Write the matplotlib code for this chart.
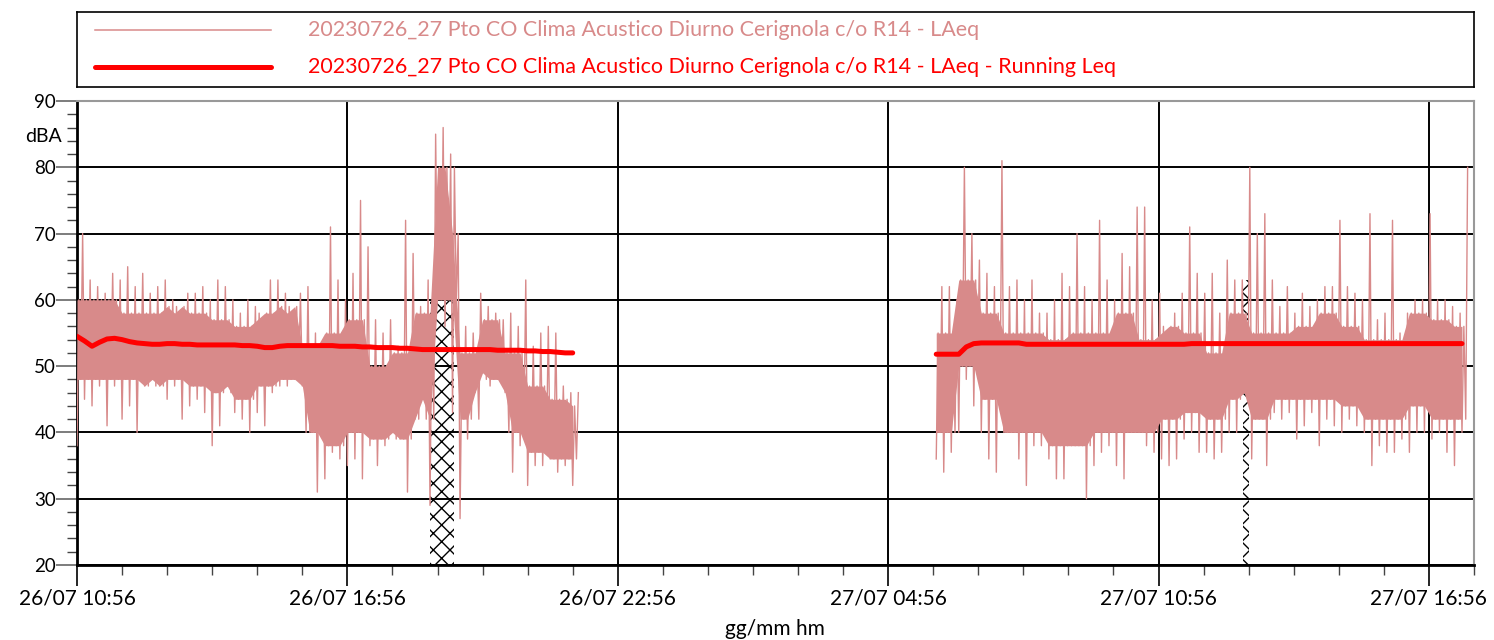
import numpy as np
import pandas as pd
import matplotlib
matplotlib.use('Agg')
import matplotlib.pyplot as plt
import matplotlib.dates as mdates
from matplotlib.ticker import FixedLocator, MultipleLocator

# campionamento a 10 minuti: per ogni intervallo minimo e massimo di LAeq
seg1_start = pd.Timestamp('2023-07-26 10:56')
seg2_start = pd.Timestamp('2023-07-27 06:00')
step = pd.Timedelta(minutes=10)

seg1_hi = [70, 63, 62, 61, 64, 63, 65, 62, 64, 61, 62, 63, 60, 58, 61, 61, 62, 60, 63, 62,
           60, 58, 60, 59, 57, 63, 63, 61, 58, 61, 62, 55, 53, 71, 63, 60,
           64, 75, 68, 57, 55, 57, 53, 72, 67, 59, 63, 85, 86, 82, 70, 56, 55, 61, 59, 58,
           57, 58, 56, 63, 53, 55, 56, 55, 47, 46, 46]
seg1_lo = [38, 45, 44, 47, 41, 47, 42, 44, 40, 47, 48, 47, 45, 47, 42, 44, 45, 43, 38, 41,
           47, 43, 42, 40, 43, 41, 46, 47, 47, 48, 47, 40, 31, 33, 37, 36,
           35, 36, 33, 38, 35, 38, 40, 39, 31, 42, 45, 29, 60, 56, 43, 27, 39, 46, 49, 47,
           48, 46, 34, 38, 32, 35, 35, 36, 34, 35, 32]
seg1_leq = [54.5, 53.8, 53.0, 53.6, 54.1, 54.2, 54.0, 53.7, 53.5, 53.4, 53.3, 53.3, 53.4,
            53.4, 53.3, 53.3, 53.2, 53.2, 53.2, 53.2, 53.2, 53.2, 53.1, 53.1, 53.0, 52.8,
            52.8, 53.0, 53.1, 53.1, 53.1, 53.1, 53.1, 53.1, 53.1, 53.0,
            53.0, 53.0, 52.9, 52.9, 52.8, 52.8, 52.8, 52.7, 52.7, 52.6, 52.5, 52.5, 52.5,
            52.5, 52.5, 52.5, 52.5, 52.5, 52.5, 52.5, 52.4, 52.4, 52.4, 52.4, 52.3, 52.3,
            52.2, 52.2, 52.1, 52.0, 52.0]
# fascia densa (30 minuti)
seg1_core_lo = [48, 48, 48, 47, 48, 47, 46, 45, 47, 48, 40, 38, 40, 39, 39, 42, 60, 42,
                48, 40, 37, 36, 36]
seg1_core_hi = [60, 60, 58, 58, 59, 58, 57, 56, 58, 59, 53, 55, 57, 50, 52, 58, 80, 52,
                57, 52, 47, 45, 44]

seg2_hi = [62, 62, 60, 80, 70, 66, 64, 62, 81, 62, 63, 60, 63, 58, 58, 60, 64, 62, 70, 62,
           60, 72, 63, 60, 67, 65, 74, 74, 60, 61, 55, 58, 61, 71, 64,
           61, 64, 58, 66, 63, 63, 80, 70, 73, 63, 59, 62, 58, 61, 59, 60, 62, 62, 72, 62,
           61, 60, 73, 57, 58, 72, 55, 58, 60, 60, 73, 60, 60, 59, 58, 80]
seg2_lo = [36, 34, 37, 40, 48, 44, 40, 36, 34, 40, 40, 36, 32, 38, 38, 36, 33, 33, 38, 38,
           30, 35, 37, 38, 35, 33, 40, 40, 38, 37, 36, 35, 36, 39, 40,
           37, 37, 36, 37, 40, 40, 46, 36, 42, 35, 43, 42, 43, 39, 41, 43, 38, 42, 41, 40,
           42, 41, 40, 35, 38, 37, 37, 39, 37, 40, 40, 39, 40, 37, 35, 40]
seg2_leq = [51.8, 51.8, 51.8, 51.8, 52.9, 53.4, 53.5, 53.5, 53.5, 53.5, 53.5, 53.5,
            53.3, 53.3, 53.3, 53.3, 53.3, 53.3, 53.3, 53.3, 53.3, 53.3, 53.3, 53.3, 53.3,
            53.3, 53.3, 53.3, 53.3, 53.3, 53.3, 53.3, 53.3, 53.3, 53.4, 53.4, 53.4, 53.4,
            53.4, 53.4, 53.4, 53.4, 53.4, 53.4, 53.4, 53.4, 53.4, 53.4, 53.4, 53.4, 53.4,
            53.4, 53.4, 53.4, 53.4, 53.4, 53.4, 53.4, 53.4, 53.4, 53.4, 53.4, 53.4, 53.4,
            53.4, 53.4, 53.4, 53.4, 53.4, 53.4, 53.4]
seg2_core_lo = [40, 50, 45, 40, 40, 38, 38, 40, 40, 40, 42, 43, 42, 45, 42, 45, 45, 45,
                44, 42, 42, 44, 42, 42]
seg2_core_hi = [55, 63, 58, 55, 55, 54, 55, 55, 58, 54, 56, 55, 52, 58, 55, 55, 56, 58,
                56, 54, 54, 58, 57, 56]

# periodi esclusi (tratteggiati)
excl_start = ['2023-07-26 18:46', '2023-07-27 12:48']
excl_end = ['2023-07-26 19:18', '2023-07-27 12:57']
excl_top = [60, 63]

label1 = '20230726_27 Pto CO Clima Acustico Diurno Cerignola c/o R14 - LAeq'
label2 = '20230726_27 Pto CO Clima Acustico Diurno Cerignola c/o R14 - LAeq - Running Leq'

pink = '#D88A8A'
red = '#FF0000'


def zigzag(start, lo, hi, clo, chi):
    # per ogni intervallo: minimo -> fascia alta -> fascia bassa -> massimo
    t, v, tb, blo, bhi = [], [], [], [], []
    for k in range(len(lo)):
        t0 = start + k * step
        b = k // 3
        t += [t0, t0 + step / 4, t0 + step / 2, t0 + step * 3 / 4]
        v += [lo[k], max(chi[b], lo[k]), min(clo[b], hi[k]), hi[k]]
        tb.append(t0)
        blo.append(max(clo[b], lo[k]))
        bhi.append(min(chi[b], hi[k]))
    return t, v, tb, blo, bhi


plt.rcParams['font.family'] = ['Lato', 'DejaVu Sans']

fig = plt.figure(figsize=(14.94, 6.4), dpi=100)
ax = fig.add_axes([77 / 1494, 1 - 565 / 640, 1397 / 1494, 464 / 640])

for start, lo, hi, clo, chi, leq in [
        (seg1_start, seg1_lo, seg1_hi, seg1_core_lo, seg1_core_hi, seg1_leq),
        (seg2_start, seg2_lo, seg2_hi, seg2_core_lo, seg2_core_hi, seg2_leq)]:
    t, v, tb, blo, bhi = zigzag(start, lo, hi, clo, chi)
    ax.fill_between(tb, blo, bhi, color=pink, linewidth=0, zorder=3)
    ax.plot(t, v, color=pink, lw=1.0, zorder=3)
    tl = [start + k * step for k in range(len(leq))]
    ax.plot(tl, leq, color=red, lw=3.6, zorder=4, solid_capstyle='round')

for s, e, top in zip(excl_start, excl_end, excl_top):
    ax.fill_between([pd.Timestamp(s), pd.Timestamp(e)], 20, top, facecolor='none',
                    edgecolor='black', hatch='xx', linewidth=0, zorder=2)

ax.set_ylim(20, 90)
ax.set_xlim(pd.Timestamp('2023-07-26 10:56'), pd.Timestamp('2023-07-27 17:56'))

major = [pd.Timestamp('2023-07-26 10:56') + pd.Timedelta(hours=6 * k) for k in range(6)]
minor = [pd.Timestamp('2023-07-26 10:56') + pd.Timedelta(hours=k) for k in range(32)]
ax.xaxis.set_major_locator(FixedLocator(mdates.date2num(major)))
ax.xaxis.set_minor_locator(FixedLocator(mdates.date2num(minor)))
ax.xaxis.set_major_formatter(mdates.DateFormatter('%d/%m %H:%M'))
ax.yaxis.set_major_locator(MultipleLocator(10))
ax.yaxis.set_minor_locator(MultipleLocator(2))

ax.grid(which='major', color='black', linewidth=1.4, zorder=1)
ax.set_axisbelow(True)
ax.tick_params(axis='x', which='major', length=15, width=1.2, labelsize=15, pad=2)
ax.tick_params(axis='x', which='minor', length=7, width=1.0, color='#444444')
ax.tick_params(axis='y', which='major', length=15, width=1.2, labelsize=13.5, pad=0,
               color='#666666')
ax.tick_params(axis='y', which='minor', length=7, width=1.0, color='#444444')

ax.spines['left'].set_linewidth(2)
ax.spines['bottom'].set_linewidth(2)
ax.spines['top'].set_color('#999999')
ax.spines['right'].set_color('#999999')
ax.spines['top'].set_linewidth(1.5)
ax.spines['right'].set_linewidth(1.5)

ax.text(-15 / 1397, 84.6, 'dBA', transform=ax.get_yaxis_transform(), ha='right',
        va='center', fontsize=14)
fig.text(775 / 1494, 1 - 629 / 640, 'gg/mm hm', ha='center', va='center', fontsize=15)

# legenda in riquadro separato
lax = fig.add_axes([77 / 1494, 1 - 87 / 640, 1397 / 1494, 75 / 640])
lax.set_xlim(0, 1)
lax.set_ylim(0, 1)
lax.set_xticks([])
lax.set_yticks([])
for sp in lax.spines.values():
    sp.set_linewidth(1.2)
lax.plot([0.013, 0.139], [0.76, 0.76], color=pink, lw=1.1)
lax.plot([0.013, 0.139], [0.267, 0.267], color=red, lw=3.6, solid_capstyle='round')
lax.text(0.1654, 0.76, label1, color=pink, fontsize=15.5, va='center')
lax.text(0.1654, 0.267, label2, color=red, fontsize=15.5, va='center')

fig.savefig('out.png', dpi=100)
